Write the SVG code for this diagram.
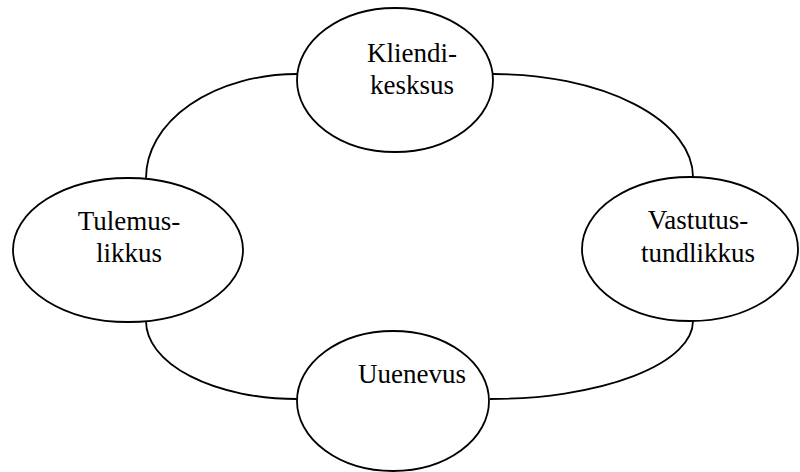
<svg xmlns="http://www.w3.org/2000/svg" width="800" height="472" viewBox="0 0 800 472">
<rect width="800" height="472" fill="#fff"/>
<g id="connectors" fill="none" stroke="#000" stroke-width="1.8">
<path d="M297,74 A151,104 0 0 0 146,178"/>
<path d="M146,321 A151,78 0 0 0 297,399"/>
<path d="M493,74 A200,103 0 0 1 693,177"/>
<path d="M693,321 A203,78 0 0 1 490,399"/>
</g>
<g id="kliendikesksus">
<ellipse cx="395" cy="80" rx="98" ry="72" fill="#fff" stroke="#000" stroke-width="1.8"/>
<text x="412" y="62" font-family="Times New Roman, serif" font-size="27" text-anchor="middle">Kliendi-</text>
<text x="412" y="94" font-family="Times New Roman, serif" font-size="27" text-anchor="middle">kesksus</text>
</g>
<g id="tulemuslikkus">
<ellipse cx="128" cy="250" rx="115" ry="72" fill="#fff" stroke="#000" stroke-width="1.8"/>
<text x="129" y="230" font-family="Times New Roman, serif" font-size="27" text-anchor="middle">Tulemus-</text>
<text x="129" y="262" font-family="Times New Roman, serif" font-size="27" text-anchor="middle">likkus</text>
</g>
<g id="vastutustundlikkus">
<ellipse cx="690" cy="249" rx="108" ry="72" fill="#fff" stroke="#000" stroke-width="1.8"/>
<text x="698" y="229" font-family="Times New Roman, serif" font-size="27" text-anchor="middle">Vastutus-</text>
<text x="698" y="262" font-family="Times New Roman, serif" font-size="27" text-anchor="middle">tundlikkus</text>
</g>
<g id="uuenevus">
<ellipse cx="393" cy="401" rx="96" ry="70" fill="#fff" stroke="#000" stroke-width="1.8"/>
<text x="412" y="383" font-family="Times New Roman, serif" font-size="27" text-anchor="middle">Uuenevus</text>
</g>
</svg>
